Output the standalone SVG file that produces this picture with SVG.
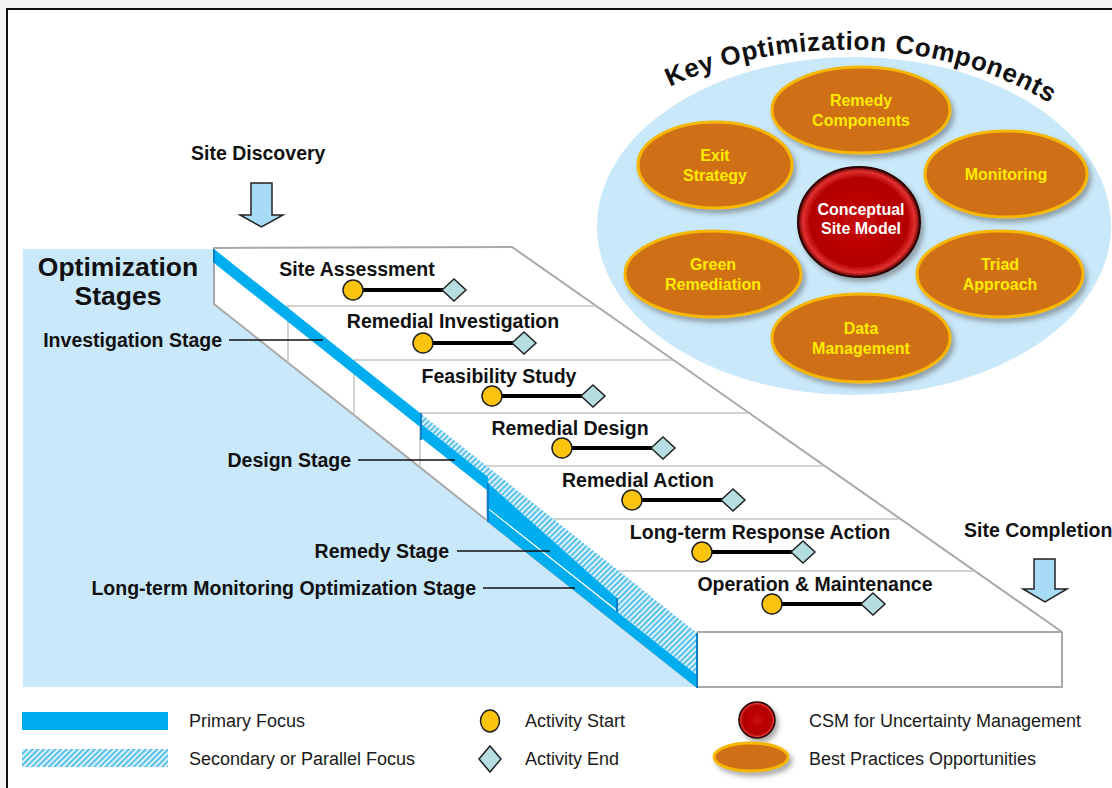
<svg xmlns="http://www.w3.org/2000/svg" xmlns:xlink="http://www.w3.org/1999/xlink" width="1112" height="788" viewBox="0 0 1112 788">
<defs>
<style>
.b{font-family:"Liberation Sans",Arial,sans-serif;font-weight:bold;fill:#111}
.lbl{font-size:19.5px}
.mid{text-anchor:middle}
.end{text-anchor:end}
.el{font-family:"Liberation Sans",Arial,sans-serif;font-weight:bold;font-size:16px;fill:#ffeb00;text-anchor:middle}
.leg{font-family:"Liberation Sans",Arial,sans-serif;font-size:18px;fill:#1a1a1a}
.sep{stroke:#c3c3c3;stroke-width:1.5;fill:none}
.edge{stroke:#a9a9a9;stroke-width:2;fill:none}
.prim{fill:#00aeef}
.bar{stroke:#0a7fc9;stroke-width:2}
.ldr{stroke:#111;stroke-width:1.5}
.act{stroke:#000;stroke-width:4}
.st{fill:#fdc40d;stroke:#222;stroke-width:1.5}
.en{fill:#b6dde0;stroke:#222;stroke-width:1.5}
.oe{fill:#cf6f17;stroke:#f5b700;stroke-width:3;filter:url(#sh)}
.arr{fill:#a8dcf6;stroke:#222;stroke-width:1.5}
.kt{font-size:26px;letter-spacing:0.6px}
</style>
<pattern id="hatch" width="4" height="4" patternUnits="userSpaceOnUse" patternTransform="rotate(45)">
<rect width="4" height="4" fill="#dcf2fc"/>
<rect width="1.7" height="4" fill="#45b8e8"/>
</pattern>
<radialGradient id="red" cx="0.5" cy="0.5" r="0.5">
<stop offset="0" stop-color="#c80a0a"/>
<stop offset="0.8" stop-color="#b20000"/>
<stop offset="0.92" stop-color="#e23030"/>
<stop offset="1" stop-color="#5a0000"/>
</radialGradient>
<filter id="sh" x="-20%" y="-20%" width="150%" height="160%">
<feDropShadow dx="3" dy="4" stdDeviation="2.5" flood-color="#444" flood-opacity="0.45"/>
</filter>
<circle id="dot" r="10" class="st"/>
<polygon id="dm" points="-12,0 0,-11 12,0 0,11" class="en"/>
<path id="arc" d="M 640,103 A 300 198 0 0 1 1080,125" fill="none"/>
</defs>

<rect width="1112" height="788" fill="#f3f3f3"/>
<rect x="7" y="9" width="1200" height="900" fill="#ffffff" stroke="#111" stroke-width="2"/>

<!-- left background -->
<polygon points="23,249 214,249 697,632 697,687 23,687" fill="#c9e8f9"/>

<!-- platform -->
<g id="platform">
<polygon points="214,248 512,247 1062,632 1062,687 697,687 214,304" fill="#fff" stroke="#a9a9a9" stroke-width="2"/>
<line class="sep" x1="286" y1="306" x2="596" y2="306"/>
<line class="sep" x1="354" y1="360" x2="673" y2="360"/>
<line class="sep" x1="420" y1="413" x2="749" y2="413"/>
<line class="sep" x1="487" y1="466" x2="825" y2="466"/>
<line class="sep" x1="554" y1="519" x2="900" y2="519"/>
<line class="sep" x1="619" y1="571" x2="975" y2="571"/>
<line class="sep" x1="288" y1="306" x2="288" y2="363"/>
<line class="sep" x1="354" y1="360" x2="354" y2="415"/>
<line class="sep" x1="420" y1="413" x2="420" y2="467"/>
<line class="sep" x1="487" y1="466" x2="487" y2="522"/>
<line class="sep" x1="554" y1="519" x2="554" y2="575"/>
<line class="sep" x1="619" y1="571" x2="619" y2="626"/>
<line class="edge" x1="697" y1="632" x2="1062" y2="632"/>
<line class="edge" x1="697" y1="632" x2="697" y2="687"/>
</g>

<!-- stage stripes -->
<g id="stripes">
<polygon points="420,413 697,633 697,675 617,611 617,598 488,483 488,477 420,423" fill="url(#hatch)"/>
<polygon class="prim" points="214,249 420,413 420,427 214,263"/>
<polygon class="prim" points="420,423 488,477 488,491 420,437"/>
<polygon class="prim" points="488,483 617,598 617,610 488,508"/>
<polygon class="prim" points="488,509 697,675 697,688 488,522"/>
<line x1="488" y1="508.5" x2="617" y2="610.5" stroke="#fff" stroke-width="1"/>
<line class="bar" x1="214" y1="249" x2="214" y2="263"/>
<line class="bar" x1="421" y1="413" x2="421" y2="440"/>
<line class="bar" x1="488" y1="483" x2="488" y2="522"/>
<line class="bar" x1="617" y1="598" x2="617" y2="612"/>
<line class="bar" x1="697" y1="633" x2="697" y2="688"/>
</g>

<!-- titles and stage labels -->
<g id="stage-title">
<text class="b mid" x="118" y="276" font-size="26.5">Optimization</text>
<text class="b mid" x="118" y="305" font-size="26.5">Stages</text>
</g>
<g id="stage-investigation"><text class="b lbl end" x="222" y="347">Investigation Stage</text></g>
<g id="stage-design"><text class="b lbl end" x="351" y="467">Design Stage</text></g>
<g id="stage-remedy"><text class="b lbl end" x="449" y="558">Remedy Stage</text></g>
<g id="stage-ltmo"><text class="b lbl end" x="476" y="595">Long-term Monitoring Optimization Stage</text></g>

<g id="connectors">
<line class="ldr" x1="229" y1="340" x2="323" y2="340"/>
<line class="ldr" x1="358" y1="460" x2="455" y2="460"/>
<line class="ldr" x1="457" y1="551" x2="550" y2="551"/>
<line class="ldr" x1="483" y1="588" x2="575" y2="588"/>
</g>

<!-- discovery / completion -->
<g id="site-discovery">
<text class="b lbl" x="191" y="160">Site Discovery</text>
<polygon class="arr" points="251,183 272,183 272,215 283,215 261.5,227 240,215 251,215"/>
</g>
<g id="site-completion">
<text class="b lbl" x="964" y="537">Site Completion</text>
<polygon class="arr" points="1034,559 1055,559 1055,589 1067,589 1045,602 1023,589 1034,589"/>
</g>

<!-- activities -->
<g id="act-site-assessment">
<text class="b lbl mid" x="357" y="276">Site Assessment</text>
<line class="act" x1="353" y1="290" x2="454" y2="290"/><use href="#dot" x="353" y="290"/><use href="#dm" x="454" y="290"/>
</g>
<g id="act-remedial-investigation">
<text class="b lbl mid" x="453" y="328">Remedial Investigation</text>
<line class="act" x1="423" y1="343" x2="524" y2="343"/><use href="#dot" x="423" y="343"/><use href="#dm" x="524" y="343"/>
</g>
<g id="act-feasibility-study">
<text class="b lbl mid" x="499" y="383">Feasibility Study</text>
<line class="act" x1="492" y1="396" x2="593" y2="396"/><use href="#dot" x="492" y="396"/><use href="#dm" x="593" y="396"/>
</g>
<g id="act-remedial-design">
<text class="b lbl mid" x="570" y="435">Remedial Design</text>
<line class="act" x1="562" y1="448" x2="663" y2="448"/><use href="#dot" x="562" y="448"/><use href="#dm" x="663" y="448"/>
</g>
<g id="act-remedial-action">
<text class="b lbl mid" x="638" y="487">Remedial Action</text>
<line class="act" x1="632" y1="500" x2="733" y2="500"/><use href="#dot" x="632" y="500"/><use href="#dm" x="733" y="500"/>
</g>
<g id="act-long-term-response">
<text class="b lbl mid" x="760" y="539">Long-term Response Action</text>
<line class="act" x1="702" y1="552" x2="803" y2="552"/><use href="#dot" x="702" y="552"/><use href="#dm" x="803" y="552"/>
</g>
<g id="act-om">
<text class="b lbl mid" x="815" y="591">Operation &amp; Maintenance</text>
<line class="act" x1="772" y1="604" x2="873" y2="604"/><use href="#dot" x="772" y="604"/><use href="#dm" x="873" y="604"/>
</g>

<!-- key optimization components -->
<g id="key-components">
<ellipse cx="854" cy="226" rx="257" ry="169" fill="#c9e8f9"/>
<text class="b kt"><textPath href="#arc" startOffset="34">Key</textPath></text>
<text class="b kt"><textPath href="#arc" startOffset="91">Optimization</textPath></text>
<text class="b kt"><textPath href="#arc" startOffset="264">Components</textPath></text>
</g>
<g id="remedy-components">
<ellipse class="oe" cx="861" cy="110" rx="89" ry="43"/>
<text class="el" x="861" y="106">Remedy</text><text class="el" x="861" y="126">Components</text>
</g>
<g id="exit-strategy">
<ellipse class="oe" cx="715" cy="165" rx="77" ry="43"/>
<text class="el" x="715" y="161">Exit</text><text class="el" x="715" y="181">Strategy</text>
</g>
<g id="monitoring">
<ellipse class="oe" cx="1006" cy="174" rx="81" ry="43"/>
<text class="el" x="1006" y="180">Monitoring</text>
</g>
<g id="green-remediation">
<ellipse class="oe" cx="713" cy="274" rx="88" ry="43"/>
<text class="el" x="713" y="270">Green</text><text class="el" x="713" y="290">Remediation</text>
</g>
<g id="triad-approach">
<ellipse class="oe" cx="1000" cy="274" rx="83" ry="43"/>
<text class="el" x="1000" y="270">Triad</text><text class="el" x="1000" y="290">Approach</text>
</g>
<g id="data-management">
<ellipse class="oe" cx="861" cy="338" rx="89" ry="44"/>
<text class="el" x="861" y="334">Data</text><text class="el" x="861" y="354">Management</text>
</g>
<g id="csm">
<ellipse cx="859" cy="222" rx="61" ry="55" fill="url(#red)" stroke="#2a0000" stroke-width="2" filter="url(#sh)"/>
<text class="el" x="861" y="215" style="fill:#fff">Conceptual</text><text class="el" x="861" y="234" style="fill:#fff">Site Model</text>
</g>

<!-- legend -->
<g id="legend">
<rect x="22" y="712" width="146" height="18" class="prim"/>
<text class="leg" x="189" y="727">Primary Focus</text>
<rect x="22" y="749" width="146" height="18" fill="url(#hatch)"/>
<text class="leg" x="189" y="765">Secondary or Parallel Focus</text>
<ellipse cx="490" cy="721" rx="9.5" ry="11" class="st"/>
<text class="leg" x="525" y="727">Activity Start</text>
<polygon points="479,759 490,746 501,759 490,772" class="en"/>
<text class="leg" x="525" y="765">Activity End</text>
<ellipse cx="757" cy="720" rx="18" ry="18" fill="url(#red)" stroke="#2a0000" stroke-width="1.5" filter="url(#sh)"/>
<text class="leg" x="809" y="727">CSM for Uncertainty Management</text>
<ellipse class="oe" cx="751" cy="757" rx="37" ry="14"/>
<text class="leg" x="809" y="765">Best Practices Opportunities</text>
</g>
</svg>
